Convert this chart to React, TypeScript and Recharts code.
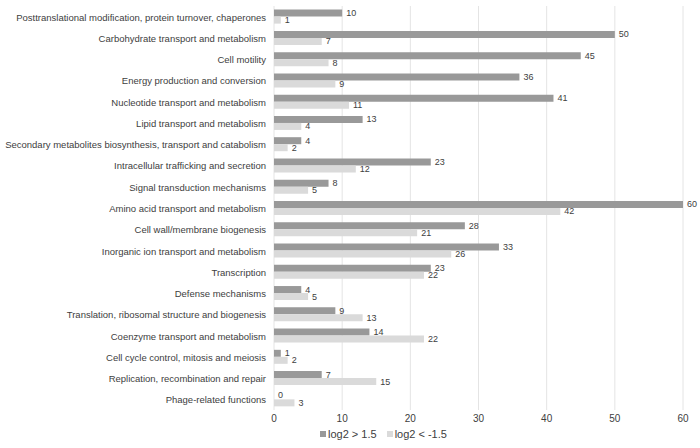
import { BarChart, Bar, XAxis, YAxis, CartesianGrid, LabelList } from "recharts";

const categories = [
  "Posttranslational modification, protein turnover, chaperones",
  "Carbohydrate transport and metabolism",
  "Cell motility",
  "Energy production and conversion",
  "Nucleotide transport and metabolism",
  "Lipid transport and metabolism",
  "Secondary metabolites biosynthesis, transport and catabolism",
  "Intracellular trafficking and secretion",
  "Signal transduction mechanisms",
  "Amino acid transport and metabolism",
  "Cell wall/membrane biogenesis",
  "Inorganic ion transport and metabolism",
  "Transcription",
  "Defense mechanisms",
  "Translation, ribosomal structure and biogenesis",
  "Coenzyme transport and metabolism",
  "Cell cycle control, mitosis and meiosis",
  "Replication, recombination and repair",
  "Phage-related functions",
];

const upValues = [10, 50, 45, 36, 41, 13, 4, 23, 8, 60, 28, 33, 23, 4, 9, 14, 1, 7, 0];
const downValues = [1, 7, 8, 9, 11, 4, 2, 12, 5, 42, 21, 26, 22, 5, 13, 22, 2, 15, 3];
const xTicks = [0, 10, 20, 30, 40, 50, 60];

const UP_COLOR = "#999999";
const DOWN_COLOR = "#dadada";
const TEXT = "#404040";
const FONT = "'Liberation Sans', Arial, sans-serif";

const data = categories.map((name, i) => ({
  name,
  up: upValues[i],
  down: downValues[i],
}));

// plain single-line category label (recharts would wrap long ones)
function CategoryTick(props: any) {
  const { x, y, payload } = props;
  return (
    <text
      x={x}
      y={y}
      dx={7}
      dy={4}
      textAnchor="end"
      fill={TEXT}
      fontSize={9.5}
      fontFamily={FONT}
    >
      {payload.value}
    </text>
  );
}

function valueText(x: number, y: number, v: any) {
  return (
    <text x={x} y={y} fill={TEXT} fontSize={9} fontFamily={FONT}>
      {v}
    </text>
  );
}

function UpLabel(props: any) {
  const { x, y, width, height, value } = props;
  if (value === undefined || value === null) return null;
  return valueText(Number(x) + Number(width) + 4, Number(y) + Number(height) / 2 + 3, value);
}

// light series label; also writes the dark bar's "0" when that bar has no length
function DownLabel(props: any) {
  const { x, y, width, height, value, index } = props;
  if (value === undefined || value === null) return null;
  const h = Number(height);
  const cy = Number(y) + h / 2 + 3;
  return (
    <g>
      {valueText(Number(x) + Number(width) + 4, cy, value)}
      {upValues[index] === 0 ? valueText(Number(x) + 4, cy - h - 1, 0) : null}
    </g>
  );
}

function LegendBox() {
  const items = [
    { label: "log2 > 1.5", color: UP_COLOR },
    { label: "log2 < -1.5", color: DOWN_COLOR },
  ];
  return (
    <div
      style={{
        position: "absolute",
        left: 320,
        top: 428,
        display: "flex",
        fontFamily: FONT,
        fontSize: 11,
        color: TEXT,
      }}
    >
      {items.map((it) => (
        <div key={it.label} style={{ display: "flex", alignItems: "center", marginRight: 10 }}>
          <span
            style={{ width: 6, height: 6, background: it.color, marginRight: 2, display: "inline-block" }}
          />
          {it.label}
        </div>
      ))}
    </div>
  );
}

export default function App() {
  return (
    <div style={{ position: "absolute", left: 0, top: 0, width: 700, height: 448, background: "#fff" }}>
      <BarChart
        width={700}
        height={448}
        data={data}
        layout="vertical"
        margin={{ top: 6, right: 17, bottom: 18, left: 0 }}
        barCategoryGap="17%"
        barGap={0}
      >
        <CartesianGrid horizontal={false} stroke="#e4e4e4" />
        <XAxis
          type="number"
          domain={[0, 60]}
          ticks={xTicks}
          axisLine={false}
          tickLine={false}
          tick={{ fill: TEXT, fontSize: 10, fontFamily: FONT }}
          tickMargin={-1}
          height={20}
        />
        <YAxis
          type="category"
          dataKey="name"
          width={274}
          axisLine={false}
          tickLine={false}
          interval={0}
          tick={<CategoryTick />}
          tickMargin={9}
        />
        <Bar dataKey="up" name="log2 > 1.5" fill={UP_COLOR} isAnimationActive={false}>
          <LabelList dataKey="up" content={<UpLabel />} />
        </Bar>
        <Bar dataKey="down" name="log2 < -1.5" fill={DOWN_COLOR} isAnimationActive={false}>
          <LabelList dataKey="down" content={<DownLabel />} />
        </Bar>
      </BarChart>
      <LegendBox />
    </div>
  );
}
